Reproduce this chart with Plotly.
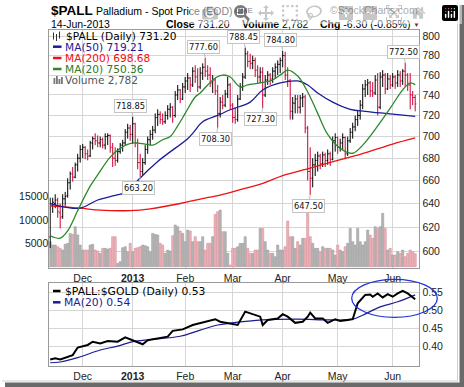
import math
import pandas as pd
import plotly.graph_objects as go

W, H = 464, 387

# ---------------- data ----------------
holidays = ['2012-11-22', '2012-12-25', '2013-01-01', '2013-01-21',
            '2013-02-18', '2013-03-29', '2013-05-27']
dates = [d for d in pd.bdate_range('2012-11-13', '2013-06-14')
         if d.strftime('%Y-%m-%d') not in holidays]

opens = [612, 638, 640, 643, 632, 629, 644, 647, 658, 666, 663, 674, 680, 688, 690, 684, 682, 694, 698, 696,
         694, 697, 692, 700, 701, 690, 680, 678, 686, 692, 694, 704, 708, 702, 712, 694, 676, 668, 676, 688,
         697, 702, 706, 718, 721, 716, 714, 720, 726, 728, 720, 740, 745, 736, 748, 754, 757, 750, 764, 758,
         748, 762, 768, 764, 760, 752, 755, 744, 722, 733, 730, 741, 750, 730, 718, 716, 736, 748, 758, 782,
         774, 772, 775, 765, 758, 763, 740, 755, 760, 756, 764, 768, 771, 775, 780, 760, 754, 724, 732, 736,
         728, 737, 738, 708, 668, 662, 674, 678, 682, 675, 683, 678, 684, 679, 696, 699, 690, 694, 699, 684,
         696, 704, 709, 716, 720, 730, 746, 750, 752, 744, 742, 755, 728, 758, 760, 746, 756, 750, 758, 752,
         760, 754, 764, 760, 750, 740, 737.5]
highs = [645, 645, 648, 645, 640, 648, 650, 662, 668, 672, 676, 684, 692, 693, 691, 688, 696, 700, 703, 701,
         700, 699, 703, 703, 702, 694, 690, 689, 694, 697, 707, 712, 711, 718.85, 713, 698, 684, 680, 692, 700,
         706, 710, 722, 726, 724, 722, 724, 730, 732, 729, 744, 750, 746, 752, 758, 762, 758, 768, 770, 767,
         768, 772, 777.6, 770, 768, 760, 757, 750, 738, 740, 745, 758, 752, 732, 728, 740, 752, 762, 788.45, 785,
         782, 780, 778, 770, 768, 768, 760, 764, 762, 768, 772, 775, 778, 784.8, 784, 768, 756, 738, 740, 740,
         740, 742, 740, 710, 690, 680, 684, 686, 684, 686, 685, 688, 686, 700, 703, 700, 698, 703, 700, 700,
         708, 713, 720, 725, 735, 751, 755, 756, 754, 753, 760, 762, 763, 765, 762, 762, 760, 762, 760, 765,
         764, 766, 772.5, 762, 762, 744, 740]
lows = [603, 632, 636, 628, 619, 627, 638, 645, 652, 659, 662, 668, 676, 680, 679, 678, 681, 688, 692, 690,
        690, 689, 688, 692, 685, 672, 673, 676, 684, 686, 692, 698, 696, 693, 690, 670, 663.2, 665, 674, 684,
        692, 697, 703, 710, 712, 711, 712, 716, 718, 713, 718, 735, 732, 735, 742, 745, 743, 748, 752, 743,
        746, 755, 758, 755, 748, 742, 740, 708.3, 718, 726, 728, 737, 726, 713, 712, 714, 735, 744, 756, 768,
        766, 766, 758, 752, 752, 727.3, 738, 750, 750, 752, 757, 760, 762, 768, 755, 748, 716, 716, 722, 722,
        722, 728, 703, 660, 647.5, 654, 664, 668, 670, 672, 672, 674, 673, 678, 686, 684, 686, 688, 679, 682,
        694, 698, 705, 710, 716, 726, 738, 740, 738, 738, 740, 720, 726, 748, 741, 745, 746, 748, 746, 748,
        748, 750, 748, 744, 726, 730, 724]
closes = [640, 641, 643, 633, 628, 644, 646, 658, 666, 663, 674, 680, 688, 690, 684, 682, 694, 698, 696, 694,
          697, 692, 700, 701, 690, 680, 678, 686, 692, 694, 704, 708, 702, 712, 694, 676, 668, 676, 688, 697,
          702, 706, 718, 721, 716, 714, 720, 726, 728, 720, 740, 745, 736, 748, 754, 757, 750, 764, 758, 748,
          762, 768, 764, 760, 752, 755, 744, 722, 733, 730, 741, 750, 730, 718, 716, 736, 748, 758, 782, 774,
          772, 775, 765, 758, 763, 740, 755, 760, 756, 764, 768, 771, 775, 780, 760, 754, 724, 732, 736, 728,
          737, 738, 708, 668, 662, 674, 678, 682, 675, 683, 678, 684, 679, 696, 699, 690, 694, 699, 684, 696,
          704, 709, 716, 720, 730, 746, 750, 752, 744, 742, 755, 728, 758, 760, 746, 756, 750, 758, 752, 760,
          754, 764, 760, 750, 740, 737.5, 731.2]
volumes = [5360, 4640, 4640, 4290, 3930, 3570, 4790, 5000, 7140, 6930, 8570, 6790, 4640, 3570, 3570, 3570,
           4640, 4790, 3570, 3360, 2860, 3930, 3930, 3790, 3930, 6430, 6430, 710, 1070, 4070, 4290, 3210,
           5000, 3210, 3930, 4070, 4290, 4640, 4500, 4290, 3210, 7140, 6930, 6790, 5000, 4640, 2860, 3570,
           3360, 6640, 8930, 8570, 7640, 7140, 5360, 7860, 7640, 5360, 6430, 5360, 5360, 6430, 3570, 5000,
           5000, 6430, 11210, 11790, 12140, 7500, 7500, 2860, 360, 3930, 3930, 4290, 5000, 5000, 6430, 3930,
           2860, 2860, 3570, 3570, 8210, 8210, 5360, 3570, 2860, 2860, 2140, 4640, 3570, 3570, 4290, 9790,
           6430, 6430, 3930, 5360, 4640, 6070, 6070, 12140, 6430, 5000, 3930, 3930, 3210, 4290, 3930, 3930,
           3930, 3570, 2500, 4640, 3570, 3210, 4290, 5000, 8210, 5360, 4640, 8210, 5360, 4640, 5360, 7860,
           6790, 6070, 8570, 8210, 8570, 11430, 8210, 3570, 3930, 2500, 2500, 3210, 2860, 3570, 2140, 2860,
           3570, 3210, 2782]

ma200_idx = [0, 12, 20, 32, 40, 52, 60, 68, 76, 85, 93, 104, 115, 124, 137, 146]
ma200_val = [638, 636, 634.3, 634, 635.5, 640, 643.8, 647.3, 652, 657.5, 664.4, 671, 678, 683.5, 693, 698.68]
ma50_idx = [0, 6, 12, 19, 26, 31, 35, 43, 55, 57, 61, 67, 72, 80, 85, 92, 99, 103, 107, 113, 120, 126, 134, 146]
ma50_val = [640, 637, 636, 643, 647, 650, 660, 677, 698, 703, 714, 720, 725.5, 733, 745, 752, 754, 750, 742,
            733, 726, 724, 722, 719.21]
ma20_idx = [0, 4, 7, 11, 16, 19, 24, 28, 33, 38, 41, 45, 48, 51, 54, 58, 60, 63, 66, 69, 72, 76, 79, 84, 89,
            93, 95, 99, 103, 107, 111, 116, 121, 125, 131, 136, 141, 144, 146]
ma20_val = [613, 611, 617, 634, 655, 665, 681, 689, 694, 693, 692, 697, 700, 710, 722, 738, 742, 750, 757, 760,
            758, 748, 750, 752, 755, 762, 765, 759, 743, 722, 702, 689, 684.5, 692, 710, 727, 745, 752, 750.36]

ratio_idx = [0, 2, 4, 7, 9, 11, 15, 17, 20, 23, 27, 30, 33, 37, 39, 43, 47, 49, 53, 57, 60, 63, 66, 68, 72,
             75, 78, 80, 84, 85, 87, 91, 93, 95, 98, 101, 103, 104, 106, 109, 111, 114, 116, 119, 121, 123,
             126, 128, 129, 131, 133, 135, 137, 139, 141, 143, 145, 146]
ratio_val = [0.365, 0.368, 0.365, 0.372, 0.377, 0.398, 0.405, 0.414, 0.409, 0.416, 0.414, 0.426, 0.417, 0.407,
             0.418, 0.423, 0.428, 0.444, 0.448, 0.460, 0.465, 0.471, 0.476, 0.469, 0.465, 0.460, 0.497, 0.492,
             0.483, 0.460, 0.474, 0.478, 0.490, 0.483, 0.466, 0.469, 0.483, 0.494, 0.478, 0.478, 0.466, 0.476,
             0.471, 0.474, 0.476, 0.520, 0.543, 0.544, 0.538, 0.547, 0.536, 0.545, 0.538, 0.547, 0.554, 0.547,
             0.536, 0.531]
rma_idx = [0, 4, 11, 20, 27, 33, 40, 52, 60, 67, 72, 85, 99, 112, 121, 125, 132, 139, 146]
rma_val = [0.356, 0.358, 0.370, 0.391, 0.402, 0.414, 0.420, 0.429, 0.446, 0.460, 0.465, 0.474, 0.476, 0.474,
           0.476, 0.487, 0.510, 0.524, 0.543]

price_ticks = [600, 620, 640, 660, 680, 700, 720, 740, 760, 780, 800]
vol_ticks = [5000, 10000, 15000]
vol_tick_text = ['5000', '10000', '15000']
ratio_ticks = [0.40, 0.45, 0.50, 0.55]

peak_labels = [(33, 718.85, 'hi'), (36, 663.20, 'lo'), (62, 777.60, 'hi'), (67, 708.30, 'lo'),
               (78, 788.45, 'hi'), (85, 727.30, 'lo'), (93, 784.80, 'hi'), (104, 647.50, 'lo'),
               (142, 772.50, 'hi')]

# ---------------- derived ----------------
n = len(closes)
idx = list(range(n))
up = [True] + [closes[i] >= closes[i - 1] for i in range(1, n)]
month_idx, month_txt = [], []
for i, d in enumerate(dates):
    if i > 0 and d.month != dates[i - 1].month:
        month_idx.append(i)
        month_txt.append('<b>%d</b>' % d.year if d.month == 1 else d.strftime('%b'))


def px(x):
    return x / W


def py(y):
    return 1 - y / H


XDOM = [px(49.3), px(419.3)]
XR = [-0.36, 147.64]
MAIN = [py(268), py(30)]
LOW = [py(366), py(283.3)]
GRID = '#d6d6d6'
BORDER = '#9a9a9a'
TICKFONT = dict(family='Liberation Sans', size=10.5, color='#222')

BLACK = '#000000'
RED = '#cc0033'

fig = go.Figure()

# volume (base axis y)
fig.add_trace(go.Bar(
    x=idx, y=volumes, width=0.85,
    marker=dict(color=['#b5b5b5' if u else '#ecb3b9' for u in up],
                line=dict(color=['#9c9c9c' if u else '#d98f99' for u in up], width=0.6)),
    xaxis='x', yaxis='y', showlegend=False, hoverinfo='skip'))

# moving averages
fig.add_trace(go.Scatter(x=ma200_idx, y=ma200_val, mode='lines', line=dict(color='#ee1111', width=1.3, shape='spline'),
                         xaxis='x', yaxis='y2', showlegend=False, hoverinfo='skip'))
fig.add_trace(go.Scatter(x=ma50_idx, y=ma50_val, mode='lines', line=dict(color='#1c1c96', width=1.3, shape='spline'),
                         xaxis='x', yaxis='y2', showlegend=False, hoverinfo='skip'))
fig.add_trace(go.Scatter(x=ma20_idx, y=ma20_val, mode='lines', line=dict(color='#2a8a2a', width=1.3, shape='spline'),
                         xaxis='x', yaxis='y2', showlegend=False, hoverinfo='skip'))

# price bars
for want_up, col in [(True, BLACK), (False, RED)]:
    sel = [i for i in idx if up[i] == want_up]
    fig.add_trace(go.Ohlc(
        x=sel, open=[opens[i] for i in sel], high=[highs[i] for i in sel],
        low=[lows[i] for i in sel], close=[closes[i] for i in sel],
        increasing=dict(line=dict(color=col, width=1)),
        decreasing=dict(line=dict(color=col, width=1)),
        tickwidth=0.45, xaxis='x', yaxis='y2', showlegend=False, hoverinfo='skip'))

# ratio panel
fig.add_trace(go.Scatter(x=rma_idx, y=rma_val, mode='lines', line=dict(color='#1c1c96', width=1.2, shape='spline'),
                         xaxis='x2', yaxis='y3', showlegend=False, hoverinfo='skip'))
fig.add_trace(go.Scatter(x=ratio_idx, y=ratio_val, mode='lines', line=dict(color='#000000', width=2),
                         xaxis='x2', yaxis='y3', showlegend=False, hoverinfo='skip'))

fig.update_layout(
    width=W, height=H, margin=dict(l=0, r=0, t=0, b=0),
    paper_bgcolor='white', plot_bgcolor='white',
    xaxis=dict(domain=XDOM, range=XR, anchor='y', tickvals=month_idx, ticktext=month_txt,
               showgrid=True, gridcolor=GRID, gridwidth=1, zeroline=False, ticks='',
               showline=True, linecolor=BORDER, mirror=True, tickfont=TICKFONT,
               rangeslider=dict(visible=False), fixedrange=True),
    yaxis=dict(domain=MAIN, range=[-279, 50721], side='left', tickvals=vol_ticks, ticktext=vol_tick_text,
               showgrid=False, zeroline=False, ticks='', showline=False, tickfont=TICKFONT),
    yaxis2=dict(overlaying='y', anchor='x', side='right', type='log',
                range=[math.log10(587.1), math.log10(807.2)], tickvals=price_ticks,
                showgrid=True, gridcolor=GRID, zeroline=False, ticks='',
                showline=True, linecolor=BORDER, mirror=True, tickfont=TICKFONT),
    xaxis2=dict(domain=XDOM, range=XR, anchor='y3', tickvals=month_idx, ticktext=month_txt,
                showgrid=True, gridcolor=GRID, zeroline=False, ticks='',
                showline=True, linecolor=BORDER, mirror=True, tickfont=TICKFONT),
    yaxis3=dict(domain=LOW, anchor='x2', side='right', range=[0.347, 0.575], tickvals=ratio_ticks,
                tickformat='.2f', showgrid=True, gridcolor=GRID, zeroline=False, ticks='',
                showline=True, linecolor=BORDER, mirror=True, tickfont=TICKFONT),
)

shapes = []
# white legend backgrounds
shapes.append(dict(type='rect', xref='paper', yref='paper', x0=px(50), x1=px(184), y0=py(86), y1=py(30.5),
                   fillcolor='white', line=dict(width=0), layer='between'))
shapes.append(dict(type='rect', xref='paper', yref='paper', x0=px(50), x1=px(213), y0=py(307), y1=py(284),
                   fillcolor='white', line=dict(width=0), layer='between'))
# legend keys
for y, col in [(46.7, '#1c1c96'), (58, '#ee1111'), (69, '#2a8a2a')]:
    shapes.append(dict(type='line', xref='paper', yref='paper', x0=px(53), x1=px(61.5), y0=py(y), y1=py(y),
                       line=dict(color=col, width=2.5)))
for y, col in [(291, '#000000'), (302.3, '#1c1c96')]:
    shapes.append(dict(type='line', xref='paper', yref='paper', x0=px(53), x1=px(60.5), y0=py(y), y1=py(y),
                       line=dict(color=col, width=2.5)))
# small bar icon for price row
for x0, y0, y1 in [(53.5, 32.5, 39.5), (56.5, 34, 41), (59.5, 31.5, 38.5)]:
    shapes.append(dict(type='line', xref='paper', yref='paper', x0=px(x0), x1=px(x0), y0=py(y1), y1=py(y0),
                       line=dict(color='#333', width=1)))
# small volume icon
for x0, top in [(53.5, 78), (56, 76), (58.5, 79), (61, 77)]:
    shapes.append(dict(type='rect', xref='paper', yref='paper', x0=px(x0), x1=px(x0 + 1.8), y0=py(84), y1=py(top),
                       fillcolor='#777', line=dict(width=0)))
# blue ellipse
shapes.append(dict(type='circle', xref='paper', yref='paper', x0=px(351.7), x1=px(437.3), y0=py(317.3), y1=py(279.3),
                   line=dict(color='#2233dd', width=1.3)))
# frame shadow
shapes.append(dict(type='rect', xref='paper', yref='paper', x0=px(459.5), x1=px(464), y0=py(387), y1=py(5),
                   fillcolor='#6a6a6a', line=dict(width=0)))
shapes.append(dict(type='rect', xref='paper', yref='paper', x0=px(5), x1=px(464), y0=py(387), y1=py(382.5),
                   fillcolor='#6a6a6a', line=dict(width=0)))
shapes.append(dict(type='line', xref='paper', yref='paper', x0=px(457.5), x1=px(457.5), y0=py(381), y1=py(2),
                   line=dict(color='#cfcfcf', width=1)))
shapes.append(dict(type='line', xref='paper', yref='paper', x0=px(2), x1=px(457.5), y0=py(381), y1=py(381),
                   line=dict(color='#cfcfcf', width=1)))
fig.update_layout(shapes=shapes)

ann = []


def txt(x, y, s, size=10.5, color='#000', family='Liberation Sans', anchor='left'):
    ann.append(dict(x=px(x), y=py(y), xref='paper', yref='paper', text=s, showarrow=False,
                    xanchor=anchor, yanchor='middle', font=dict(family=family, size=size, color=color)))


txt(48.5, 10, '<b>$PALL</b>', size=13.5)
txt(93.5, 10.5, 'Palladium - Spot Price (EOD)', size=10.5)
txt(232.5, 11, 'CME', size=8)
txt(420, 10, '©StockCharts.com', size=10.5, color='#555', anchor='right')
txt(48.5, 24, '14-Jun-2013', size=10.5)
txt(164, 24, '<b>Close</b> 731.20', size=10.5)
txt(239.5, 24, '<b>Volume</b> 2,782', size=10.5)
txt(317.5, 24, '<b>Chg</b> -6.30 (-0.85%)', size=10.5)
txt(411, 24.5, '▼', size=7, color='#8b1a3a')

LF = 'DejaVu Sans'
txt(64, 36, '$PALL (Daily) 731.20', size=10.6, family=LF)
txt(62.5, 46.7, 'MA(50) 719.21', size=10.6, color='#1c1c96', family=LF)
txt(62.5, 58, 'MA(200) 698.68', size=10.6, color='#ee1111', family=LF)
txt(62.5, 69, 'MA(20) 750.36', size=10.6, color='#2a7a2a', family=LF)
txt(63, 80, 'Volume 2,782', size=10.6, color='#555', family=LF)
txt(63, 291, '$PALL:$GOLD (Daily) 0.53', size=10.8, family=LF)
txt(61.5, 302.3, 'MA(20) 0.54', size=10.8, color='#1c1c96', family=LF)

for i, v, kind in peak_labels:
    ann.append(dict(x=i, y=math.log10(v), xref='x', yref='y2', text='%.2f' % v,
                    showarrow=True, arrowhead=0, arrowwidth=1, arrowcolor='#bdbdbd',
                    ax=-2, ay=-11 if kind == 'hi' else 11, standoff=0,
                    bgcolor='white', bordercolor='#c4c4c4', borderwidth=1, borderpad=1,
                    font=dict(family='DejaVu Sans', size=8.3, color='#111')))

fig.update_layout(annotations=ann)
fig.write_html('out.html')

# remove the default page margin so the figure sits at the window's top-left corner
with open('out.html', encoding='utf-8') as f:
    page = f.read()
page = page.replace('<head>', '<head><style>html,body{margin:0;padding:0;overflow:hidden;}</style>', 1)
with open('out.html', 'w', encoding='utf-8') as f:
    f.write(page)
